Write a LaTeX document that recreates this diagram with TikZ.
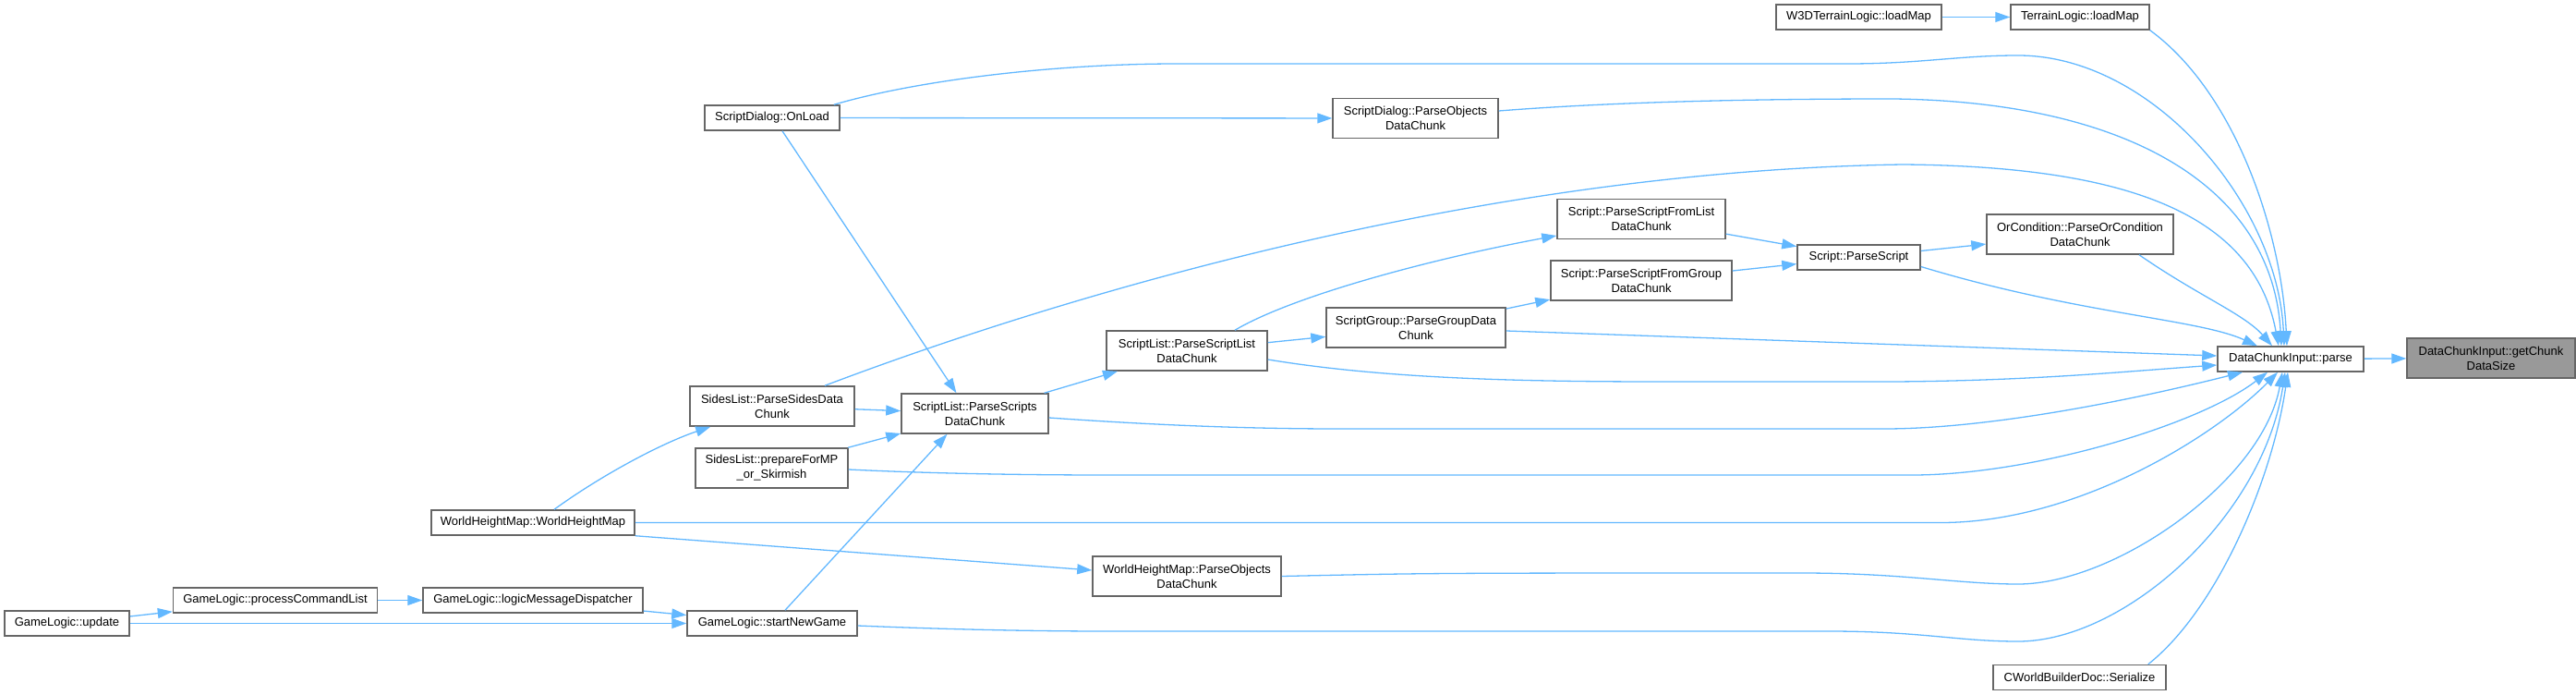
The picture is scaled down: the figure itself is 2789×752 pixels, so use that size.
\documentclass[tikz,border=0pt]{standalone}
\usepackage{fontspec}
\setmainfont{Liberation Sans}
\usetikzlibrary{arrows.meta}
\definecolor{edgeblue}{HTML}{63B8FF}
\definecolor{boxgray}{HTML}{666666}
\definecolor{focusgray}{HTML}{999999}

\begin{document}
\begin{tikzpicture}[x=1pt,y=-1pt,
  fn/.style={draw=boxgray,line width=1.5pt,fill=white,inner sep=0pt,minimum height=27pt,align=center,font=\fontsize{13}{16}\selectfont},
  fn2/.style={fn,minimum height=43pt},
  call/.style={draw=edgeblue,line width=1.3pt,-{Triangle[length=16pt,width=11pt]}}]
  \useasboundingbox (0,0) rectangle (2789,752);
  \node[fn,minimum width=135pt] (upd) at (72.5,674.5) {GameLogic::update};
  \node[fn,minimum width=221pt] (pcl) at (298,649.5) {GameLogic::processCommandList};
  \node[fn,minimum width=238pt] (lmd) at (577,649.5) {GameLogic::logicMessageDispatcher};
  \node[fn,minimum width=184pt] (sng) at (836,674.5) {GameLogic::startNewGame};
  \node[fn,minimum width=220pt] (whm) at (577,565.5) {WorldHeightMap::WorldHeightMap};
  \node[fn2,minimum width=178pt] (psd) at (836,439.5) {SidesList::ParseSidesData\\Chunk};
  \node[fn2,minimum width=165pt] (pfm) at (835.5,506.5) {SidesList::prepareForMP\\\_or\_Skirmish};
  \node[fn,minimum width=146pt] (ol) at (836,127.5) {ScriptDialog::OnLoad};
  \node[fn2,minimum width=159pt] (pss) at (1055.5,447.5) {ScriptList::ParseScripts\\DataChunk};
  \node[fn2,minimum width=174pt] (psl) at (1285,379.5) {ScriptList::ParseScriptList\\DataChunk};
  \node[fn2,minimum width=194pt] (pgd) at (1533,354.5) {ScriptGroup::ParseGroupData\\Chunk};
  \node[fn2,minimum width=179pt] (sdpo) at (1532.5,128) {ScriptDialog::ParseObjects\\DataChunk};
  \node[fn2,minimum width=182pt] (fl) at (1777,237) {Script::ParseScriptFromList\\DataChunk};
  \node[fn2,minimum width=196pt] (fg) at (1777,303.5) {Script::ParseScriptFromGroup\\DataChunk};
  \node[fn,minimum width=133pt] (ps) at (2012.5,278.5) {Script::ParseScript};
  \node[fn2,minimum width=202pt] (oc) at (2252,253.5) {OrCondition::ParseOrCondition\\DataChunk};
  \node[fn,minimum width=179pt] (w3d) at (2012.5,18.5) {W3DTerrainLogic::loadMap};
  \node[fn,minimum width=150pt] (tl) at (2252,18.5) {TerrainLogic::loadMap};
  \node[fn,minimum width=158pt] (parse) at (2480,388.5) {DataChunkInput::parse};
  \node[fn2,minimum width=182pt,fill=focusgray] (gcs) at (2697,387.5) {DataChunkInput::getChunk\\DataSize};
  \node[fn2,minimum width=204pt] (whmpo) at (1285,623.5) {WorldHeightMap::ParseObjects\\DataChunk};
  \node[fn,minimum width=187pt] (ser) at (2251.5,733) {CWorldBuilderDoc::Serialize};

  \draw[call] (upd) -- (pcl); \draw[call] (upd) -- (sng); \draw[call] (pcl) -- (lmd); \draw[call] (lmd) -- (sng);
  \draw[call] ([xshift=14]sng.north) -- ([xshift=-30]pss.south);
  \draw[call] ([xshift=11]ol.south) -- ([xshift=-20]pss.north);
  \draw[call] (ol) -- (sdpo); \draw[call] (psd) -- (pss); \draw[call] (pfm) -- (pss);
  \draw[call] ([xshift=23]whm.north) .. controls (650,515) and (715,480) .. ([xshift=23]psd.south west);
  \draw[call] (whm.south east) -- ([yshift=6.5]whmpo.west);
  \draw[call] (pss) -- (psl); \draw[call] (psl) -- (pgd);
  \draw[call] ([xshift=52]psl.north) .. controls (1400,320) and (1550,280) .. ([yshift=-18]fl.west);
  \draw[call] (pgd) -- (fg); \draw[call] (fl) -- (ps); \draw[call] (fg) -- (ps); \draw[call] (ps) -- (oc);
  \draw[call] (w3d) -- (tl); \draw[call] (parse) -- (gcs);

  \draw[call] (tl.south east) .. controls (2420,100) and (2470,250) .. ([xshift=-4]parse.north);
  \draw[call] ([xshift=-7]ol.north east) .. controls (1000,85) and (1150,69) .. (1274,69) -- (2000,69) .. controls (2080,69) and (2120,60) .. (2185,60) .. controls (2330,60) and (2466,220) .. ([xshift=-7]parse.north);
  \draw[call] ([yshift=8]sdpo.east) .. controls (1750,110) and (1900,107) .. (2050,107) .. controls (2300,110) and (2460,200) .. ([xshift=-10]parse.north);
  \draw[call] ([xshift=57]psd.north) .. controls (1150,320) and (1600,185) .. (2060,178) .. controls (2300,180) and (2440,230) .. ([xshift=-13]parse.north);
  \draw[call] ([xshift=64]oc.south) .. controls (2380,320) and (2430,340) .. ([xshift=-20]parse.north);
  \draw[call] ([yshift=-10]ps.east) .. controls (2250,340) and (2380,345) .. ([xshift=-36]parse.north);
  \draw[call] ([yshift=-3.5]pgd.east) -- ([yshift=3.5]parse.west);
  \draw[call] ([yshift=-9.5]psl.east) .. controls (1500,410) and (1650,413) .. (1800,413) -- (2050,413) .. controls (2200,412) and (2300,402) .. ([yshift=-6.5]parse.west);
  \draw[call] ([yshift=-4.5]pss.east) .. controls (1250,460) and (1350,464) .. (1450,464) -- (2040,464) .. controls (2150,464) and (2300,435) .. ([xshift=-52]parse.south);
  \draw[call] ([yshift=-1.5]pfm.east) .. controls (1000,512) and (1100,514) .. (1200,514) -- (2070,514) .. controls (2200,514) and (2380,460) .. ([xshift=-25]parse.south);
  \draw[call] (whm.east) -- (2100,565.5) .. controls (2250,566) and (2400,470) .. ([xshift=-14]parse.south);
  \draw[call] (whmpo.east) .. controls (1550,620) .. (1950,620) .. controls (2060,620) and (2120,632) .. (2185,632) .. controls (2290,632) and (2450,520) .. ([xshift=-9]parse.south);
  \draw[call] ([yshift=-2.5]sng.east) .. controls (1000,680) and (1100,683) .. (1200,683) -- (1980,683) .. controls (2080,683) and (2120,694) .. (2185,694) .. controls (2300,694) and (2450,560) .. ([xshift=-6]parse.south);
  \draw[call] ([xshift=-20]ser.north east) .. controls (2400,660) and (2460,520) .. ([xshift=-3]parse.south);
\end{tikzpicture}
\end{document}
